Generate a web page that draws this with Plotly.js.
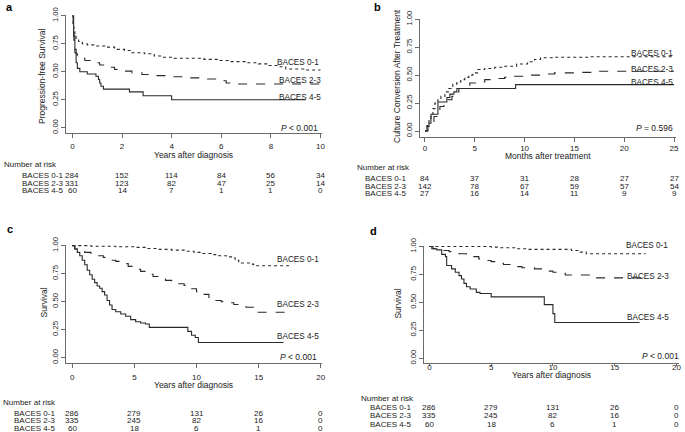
<!DOCTYPE html>
<html><head><meta charset="utf-8">
<script src="https://cdn.plot.ly/plotly-3.0.1.min.js"></script>
<style>html,body{margin:0;padding:0;background:#fff;} #chart{width:685px;height:432px;}</style>
</head><body><div id="chart"></div>
<script>
// ---------- DATA ----------
const groupNames = ["BACES 0-1", "BACES 2-3", "BACES 4-5"];

// Panel a: progression-free survival (years)
const aTime01 = [0, 0.03, 0.06, 0.1, 0.15, 0.25, 0.4, 0.6, 0.9, 1.3, 1.7, 2.1, 2.4, 2.9, 3.3, 3.6, 4.1, 5.3, 5.9, 6.4, 7.0, 7.5, 7.9, 8.3, 8.6, 9.4, 10.0];
const aSurv01 = [1.0, 0.93, 0.87, 0.82, 0.79, 0.77, 0.75, 0.74, 0.73, 0.72, 0.70, 0.69, 0.67, 0.66, 0.64, 0.63, 0.62, 0.61, 0.60, 0.59, 0.58, 0.57, 0.555, 0.545, 0.525, 0.515, 0.515];
const aTime23 = [0, 0.03, 0.06, 0.1, 0.15, 0.2, 0.3, 0.5, 0.8, 1.1, 1.4, 1.7, 2.0, 2.4, 2.8, 3.2, 3.8, 4.6, 5.4, 5.9, 6.2, 6.35, 10.0];
const aSurv23 = [1.0, 0.88, 0.78, 0.70, 0.66, 0.64, 0.62, 0.60, 0.58, 0.56, 0.54, 0.52, 0.505, 0.49, 0.475, 0.465, 0.455, 0.445, 0.435, 0.42, 0.40, 0.39, 0.39];
const aTime45 = [0, 0.05, 0.1, 0.15, 0.2, 0.3, 0.6, 0.95, 1.05, 1.1, 1.15, 1.25, 2.3, 2.85, 4.0, 9.4];
const aSurv45 = [1.0, 0.82, 0.67, 0.58, 0.53, 0.50, 0.48, 0.46, 0.43, 0.40, 0.37, 0.345, 0.32, 0.285, 0.25, 0.25];
const aRiskTimes = [0, 2, 4, 6, 8, 10];
const aRisk01 = [284, 152, 114, 84, 56, 34];
const aRisk23 = [331, 123, 82, 47, 25, 14];
const aRisk45 = [60, 14, 7, 1, 1, 0];

// Panel b: culture conversion (months)
const bTime01 = [0, 0.2, 0.4, 0.6, 0.8, 1.0, 1.3, 1.6, 2.0, 2.4, 2.8, 3.2, 3.6, 4.0, 4.4, 4.8, 5.3, 6.0, 7.0, 8.0, 9.2, 10.3, 11.0, 11.6, 13.0, 16.6, 25];
const bConv01 = [0, 0.05, 0.10, 0.15, 0.20, 0.25, 0.28, 0.31, 0.35, 0.38, 0.42, 0.44, 0.46, 0.48, 0.50, 0.52, 0.55, 0.56, 0.57, 0.58, 0.60, 0.62, 0.64, 0.655, 0.66, 0.665, 0.665];
const bTime23 = [0, 0.3, 0.6, 0.9, 1.2, 1.5, 1.9, 2.3, 2.7, 3.0, 3.4, 3.9, 4.5, 5.2, 6.0, 7.0, 8.0, 9.0, 10.0, 11.5, 13.0, 15.0, 17.5, 25];
const bConv23 = [0, 0.04, 0.08, 0.13, 0.18, 0.22, 0.25, 0.28, 0.31, 0.35, 0.38, 0.41, 0.43, 0.44, 0.46, 0.47, 0.48, 0.49, 0.50, 0.51, 0.52, 0.525, 0.535, 0.535];
const bTime45 = [0, 0.2, 0.4, 0.6, 1.3, 2.2, 2.5, 2.9, 3.2, 9.1, 25];
const bConv45 = [0, 0.04, 0.07, 0.15, 0.26, 0.30, 0.33, 0.35, 0.38, 0.415, 0.415];
const bRiskTimes = [0, 5, 10, 15, 20, 25];
const bRisk01 = [84, 37, 31, 28, 27, 27];
const bRisk23 = [142, 78, 67, 59, 57, 54];
const bRisk45 = [27, 16, 14, 11, 9, 9];

// Panel c: survival (years)
const cTime01 = [0, 1.5, 3.5, 5.0, 6.0, 7.0, 8.0, 9.0, 9.8, 10.5, 11.2, 11.8, 12.4, 13.1, 13.4, 14.3, 14.6, 17.5];
const cSurv01 = [1.0, 0.995, 0.99, 0.985, 0.975, 0.967, 0.96, 0.95, 0.94, 0.93, 0.92, 0.91, 0.90, 0.87, 0.845, 0.835, 0.82, 0.82];
const cTime23 = [0, 0.2, 0.6, 1.0, 1.5, 2.0, 2.5, 3.0, 3.5, 4.0, 4.5, 5.0, 5.5, 6.0, 6.5, 7.0, 7.5, 8.0, 8.5, 9.0, 9.5, 10.0, 10.5, 11.0, 11.5, 12.0, 12.5, 13.0, 13.5, 14.0, 14.6, 17.3];
const cSurv23 = [1.0, 0.97, 0.95, 0.94, 0.925, 0.91, 0.895, 0.87, 0.86, 0.84, 0.815, 0.79, 0.77, 0.745, 0.725, 0.71, 0.69, 0.675, 0.66, 0.645, 0.615, 0.59, 0.565, 0.535, 0.51, 0.50, 0.49, 0.475, 0.455, 0.45, 0.405, 0.405];
const cTime45 = [0, 0.2, 0.4, 0.6, 0.8, 1.0, 1.2, 1.4, 1.6, 1.8, 2.0, 2.2, 2.4, 2.6, 2.8, 3.0, 3.2, 3.5, 3.9, 4.3, 4.7, 5.1, 5.5, 5.9, 6.2, 9.3, 9.6, 9.9, 10.15, 17.0];
const cSurv45 = [1.0, 0.97, 0.94, 0.91, 0.87, 0.83, 0.78, 0.74, 0.70, 0.67, 0.64, 0.62, 0.59, 0.56, 0.51, 0.47, 0.43, 0.41, 0.39, 0.37, 0.34, 0.32, 0.31, 0.30, 0.27, 0.235, 0.20, 0.18, 0.135, 0.135];

// Panel d: survival (years)
const dTime01 = [0, 5.0, 5.6, 7.0, 8.0, 11.5, 12.1, 12.7, 17.5];
const dSurv01 = [1.0, 0.995, 0.99, 0.98, 0.975, 0.965, 0.95, 0.935, 0.935];
const dTime23 = [0, 0.2, 0.6, 1.6, 2.4, 3.0, 3.5, 4.0, 4.5, 5.0, 5.5, 6.0, 7.0, 7.5, 8.5, 9.5, 10.0, 10.5, 11.0, 13.0, 17.4];
const dSurv23 = [1.0, 0.98, 0.965, 0.955, 0.935, 0.92, 0.91, 0.89, 0.875, 0.865, 0.85, 0.84, 0.82, 0.81, 0.80, 0.78, 0.77, 0.76, 0.745, 0.72, 0.72];
const dTime45 = [0, 0.3, 0.6, 1.0, 1.3, 1.4, 1.8, 2.1, 2.4, 2.6, 2.8, 3.0, 3.3, 3.8, 4.1, 5.0, 9.3, 10.0, 10.15, 17.0];
const dSurv45 = [1.0, 0.98, 0.97, 0.93, 0.91, 0.83, 0.80, 0.77, 0.74, 0.71, 0.67, 0.64, 0.62, 0.59, 0.58, 0.55, 0.48, 0.40, 0.32, 0.32];

const cdRiskTimes = [0, 5, 10, 15, 20];
const cdRisk01 = [286, 279, 131, 26, 0];
const cdRisk23 = [335, 245, 82, 16, 0];
const cdRisk45 = [60, 18, 6, 1, 0];

const yTicks = [0, 0.25, 0.5, 0.75, 1.0];

// ---------- LAYOUT ----------
const W = 685, H = 432;
const FONT = "Liberation Sans, Arial, sans-serif";
const TXT = "#1a1a1a", AXC = "#6a6a6a", LINEC = "#2a2a2a";
const px = p => p / W, py = p => 1 - p / H;

const panels = [
  { ax: '', letter: 'a', letterPos: [9, 7], xdom: [65.7, 321.7], ydom: [15.2, 133.3], xr: [-0.27, 10.05], yr: [-0.05, 1.005],
    xticks: aRiskTimes, xtl: 4, xstand: 1, ytitle: 'Progression-free Survival', ytitlePos: [42, 76], xtitle: 'Years after diagnosis', xtitleY: 154.8,
    p: '<i>P</i> &lt; 0.001', pPos: [319.5, 128.3],
    series: [[aTime01, aSurv01], [aTime23, aSurv23], [aTime45, aSurv45]],
    labPos: [[275, 62.3], [276.5, 80.7], [276.5, 97.3]],
    risk: [aRisk01, aRisk23, aRisk45], riskT: aRiskTimes, narPos: [1.5, 164.5], rowX: 19.5, rowY: [175.7, 183.3, 190.8] },
  { ax: '2', letter: 'b', letterPos: [377, 7], xdom: [420, 676], ydom: [18.7, 136.5], xr: [-0.5, 25.2], yr: [-0.049, 1.005],
    xticks: bRiskTimes, xtl: 4, xstand: 0, ytitle: 'Culture Conversion After Treatment', ytitlePos: [397, 76], xtitle: 'Months after treatment', xtitleY: 156.3,
    p: '<i>P</i> = 0.596', pPos: [675, 128.3],
    series: [[bTime01, bConv01], [bTime23, bConv23], [bTime45, bConv45]],
    labPos: [[629, 53.3], [629, 69.3], [629, 82]],
    risk: [bRisk01, bRisk23, bRisk45], riskT: bRiskTimes, narPos: [355, 167.5], rowX: 363.3, rowY: [178.5, 186, 193.5] },
  { ax: '3', letter: 'c', letterPos: [10, 229], xdom: [65.7, 322], ydom: [245.1, 362.7], xr: [-0.53, 20.1], yr: [-0.045, 1.005],
    xticks: cdRiskTimes, xtl: 4, xstand: 3, ytitle: 'Survival', ytitlePos: [43, 302.5], xtitle: 'Years after diagnosis', xtitleY: 385.3,
    p: '<i>P</i> &lt; 0.001', pPos: [319, 357.3],
    series: [[cTime01, cSurv01], [cTime23, cSurv23], [cTime45, cSurv45]],
    labPos: [[275, 259], [275, 304.3], [275, 336.7]],
    risk: [cdRisk01, cdRisk23, cdRisk45], riskT: cdRiskTimes, narPos: [1, 402.3], rowX: 12, rowY: [413.3, 420.7, 428.3] },
  { ax: '4', letter: 'd', letterPos: [374, 231], xdom: [423.8, 679], ydom: [246, 363.3], xr: [-0.45, 20.2], yr: [-0.045, 1.005],
    xticks: cdRiskTimes, xtl: 2, xstand: -6, ytitle: 'Survival', ytitlePos: [398.3, 303.3], xtitle: 'Years after diagnosis', xtitleY: 374.8,
    p: '<i>P</i> &lt; 0.001', pPos: [680.5, 356],
    series: [[dTime01, dSurv01], [dTime23, dSurv23], [dTime45, dSurv45]],
    labPos: [[624, 245.7], [625, 276], [625, 317]],
    risk: [cdRisk01, cdRisk23, cdRisk45], riskT: cdRiskTimes, narPos: [359, 398], rowX: 368.3, rowY: [407.5, 415.8, 424.2] }
];

const dashes = ['dot', 'dash', 'solid'];
const traces = [];
const annotations = [];
const layout = {
  width: W, height: H, margin: { l: 0, r: 0, t: 0, b: 0 },
  paper_bgcolor: '#fff', plot_bgcolor: '#fff', showlegend: false,
  font: { family: FONT, color: TXT, size: 8 }
};
const TBL = 8.0;

panels.forEach(P => {
  const xa = 'x' + P.ax, ya = 'y' + P.ax;
  layout['xaxis' + P.ax] = {
    domain: [px(P.xdom[0]), px(P.xdom[1])], range: P.xr, anchor: ya,
    showline: true, linecolor: AXC, linewidth: 1, mirror: false,
    ticks: 'outside', ticklen: P.xtl, tickwidth: 1, tickcolor: AXC, ticklabelstandoff: P.xstand,
    tickvals: P.xticks, showgrid: false, zeroline: false,
    tickfont: { family: FONT, size: 8, color: TXT }, fixedrange: true
  };
  layout['yaxis' + P.ax] = {
    domain: [py(P.ydom[1]), py(P.ydom[0])], range: P.yr, anchor: xa,
    showline: true, linecolor: AXC, linewidth: 1,
    ticks: 'outside', ticklen: 4, tickwidth: 1, tickcolor: AXC,
    tickvals: yTicks, tickformat: '.2f', tickangle: -90, showgrid: false, zeroline: false,
    tickfont: { family: FONT, size: 7.6, color: TXT }, fixedrange: true
  };
  P.series.forEach((s, i) => {
    traces.push({ x: s[0], y: s[1], xaxis: xa, yaxis: ya, type: 'scatter', mode: 'lines',
      line: { shape: 'hv', color: LINEC, width: 1.1, dash: dashes[i] }, hoverinfo: 'skip' });
  });
  annotations.push({ text: '<b>' + P.letter + '</b>', xref: 'paper', yref: 'paper', x: px(P.letterPos[0]), y: py(P.letterPos[1]),
    xanchor: 'center', yanchor: 'middle', showarrow: false, font: { family: FONT, size: 11, color: '#000' } });
  annotations.push({ text: P.ytitle, xref: 'paper', yref: 'paper', x: px(P.ytitlePos[0]), y: py(P.ytitlePos[1]),
    xanchor: 'center', yanchor: 'middle', textangle: -90, showarrow: false, font: { family: FONT, size: 8.5, color: TXT } });
  annotations.push({ text: P.xtitle, xref: 'paper', yref: 'paper', x: px((P.xdom[0] + P.xdom[1]) / 2), y: py(P.xtitleY),
    xanchor: 'center', yanchor: 'middle', showarrow: false, font: { family: FONT, size: 8.5, color: TXT } });
  annotations.push({ text: P.p, xref: 'paper', yref: 'paper', x: px(P.pPos[0]), y: py(P.pPos[1]),
    xanchor: 'right', yanchor: 'middle', showarrow: false, font: { family: FONT, size: 8.5, color: TXT } });
  groupNames.forEach((g, i) => {
    annotations.push({ text: g, xref: 'paper', yref: 'paper', x: px(P.labPos[i][0]), y: py(P.labPos[i][1]),
      xanchor: 'left', yanchor: 'middle', showarrow: false, font: { family: FONT, size: 8.2, color: TXT } });
  });
  annotations.push({ text: 'Number at risk', xref: 'paper', yref: 'paper', x: px(P.narPos[0]), y: py(P.narPos[1]),
    xanchor: 'left', yanchor: 'middle', showarrow: false, font: { family: FONT, size: TBL, color: TXT } });
  groupNames.forEach((g, i) => {
    annotations.push({ text: g, xref: 'paper', yref: 'paper', x: px(P.rowX), y: py(P.rowY[i]),
      xanchor: 'left', yanchor: 'middle', showarrow: false, font: { family: FONT, size: TBL, color: TXT } });
    P.risk[i].forEach((n, j) => {
      annotations.push({ text: String(n), xref: xa, yref: 'paper', x: P.riskT[j], y: py(P.rowY[i]),
        xanchor: 'center', yanchor: 'middle', showarrow: false, font: { family: FONT, size: TBL, color: TXT } });
    });
  });
});
layout.annotations = annotations;

Plotly.newPlot('chart', traces, layout, { staticPlot: true, displayModeBar: false });
</script>
</body></html>
